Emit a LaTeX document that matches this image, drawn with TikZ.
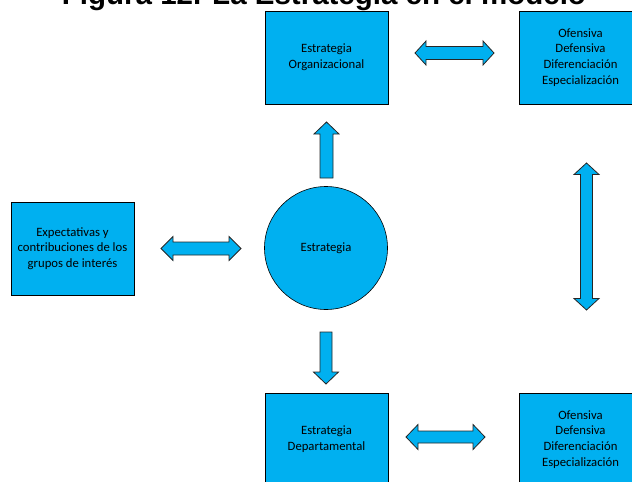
\documentclass[tikz,border=0pt]{standalone}
\usepackage{fontspec}
\setmainfont{Carlito}
\newfontfamily\titlefont{Liberation Sans}
\definecolor{boxblue}{HTML}{00B0F0}
\tikzset{
  box/.style={draw=black, line width=0.8pt, fill=boxblue, minimum width=123pt,
    minimum height=93pt, align=center, inner sep=0pt,
    font=\fontsize{12.7}{15.8}\selectfont},
  circ/.style={circle, draw=black, line width=0.6pt, fill=boxblue,
    minimum size=123pt, inner sep=0pt, font=\fontsize{12.7}{15.8}\selectfont},
  blockarrow/.style={draw=black!85, line width=0.8pt, fill=boxblue, line join=miter},
  titletext/.style={anchor=base, inner sep=0pt,
    font=\titlefont\bfseries\fontsize{29.5}{34}\selectfont}
}
% horizontal double arrow: x1, x2, yc, shaft half, head half, head length
\newcommand\hdblarrow[6]{%
  \draw[blockarrow] (#1,#3) -- ({#1+#6},{#3-#5}) -- ({#1+#6},{#3-#4})
    -- ({#2-#6},{#3-#4}) -- ({#2-#6},{#3-#5}) -- (#2,#3)
    -- ({#2-#6},{#3+#5}) -- ({#2-#6},{#3+#4}) -- ({#1+#6},{#3+#4})
    -- ({#1+#6},{#3+#5}) -- cycle;}
% vertical double arrow: xc, y1, y2, shaft half, head half, head length
\newcommand\vdblarrow[6]{%
  \draw[blockarrow] (#1,#2) -- ({#1+#5},{#2+#6}) -- ({#1+#4},{#2+#6})
    -- ({#1+#4},{#3-#6}) -- ({#1+#5},{#3-#6}) -- (#1,#3)
    -- ({#1-#5},{#3-#6}) -- ({#1-#4},{#3-#6}) -- ({#1-#4},{#2+#6})
    -- ({#1-#5},{#2+#6}) -- cycle;}
% vertical single arrow: xc, ytail, yheadbase, ytip, shaft half, head half
\newcommand\vsglarrow[6]{%
  \draw[blockarrow] ({#1-#5},#2) -- ({#1-#5},#3) -- ({#1-#6},#3) -- (#1,#4)
    -- ({#1+#6},#3) -- ({#1+#5},#3) -- ({#1+#5},#2) -- cycle;}
\begin{document}
\begin{tikzpicture}[x=1pt,y=-1pt]
\useasboundingbox (0,0) rectangle (632,482);
\clip (0,0) rectangle (632,482);
\node[titletext] (title) at (324,4.5) {Figura 12. La Estrategia en el modelo};
\node[box] (org) at (326.5,57.5) {Estrategia\\Organizacional};
\node[box] (otr) at (580.5,57.5) {Ofensiva\\Defensiva\\Diferenciación\\Especialización};
\node[box] (exp) at (72.5,248.5) {Expectativas y\\contribuciones de los\\grupos de interés};
\node[circ] (est) at (326,248) {Estrategia};
\node[box] (dep) at (326.5,439.5) {Estrategia\\Departamental};
\node[box] (obr) at (580.5,439.5) {Ofensiva\\Defensiva\\Diferenciación\\Especialización};
\hdblarrow{415}{494}{53}{6.5}{12}{11}
\hdblarrow{161}{241}{248.5}{6.5}{12}{12}
\hdblarrow{406}{485}{437}{6}{12.5}{12}
\vdblarrow{586.5}{163}{310}{6}{12.5}{11.5}
\vsglarrow{326.5}{178}{134}{122}{6.5}{12.5}
\vsglarrow{326}{332}{372}{384}{6}{12.5}
\end{tikzpicture}
\end{document}
